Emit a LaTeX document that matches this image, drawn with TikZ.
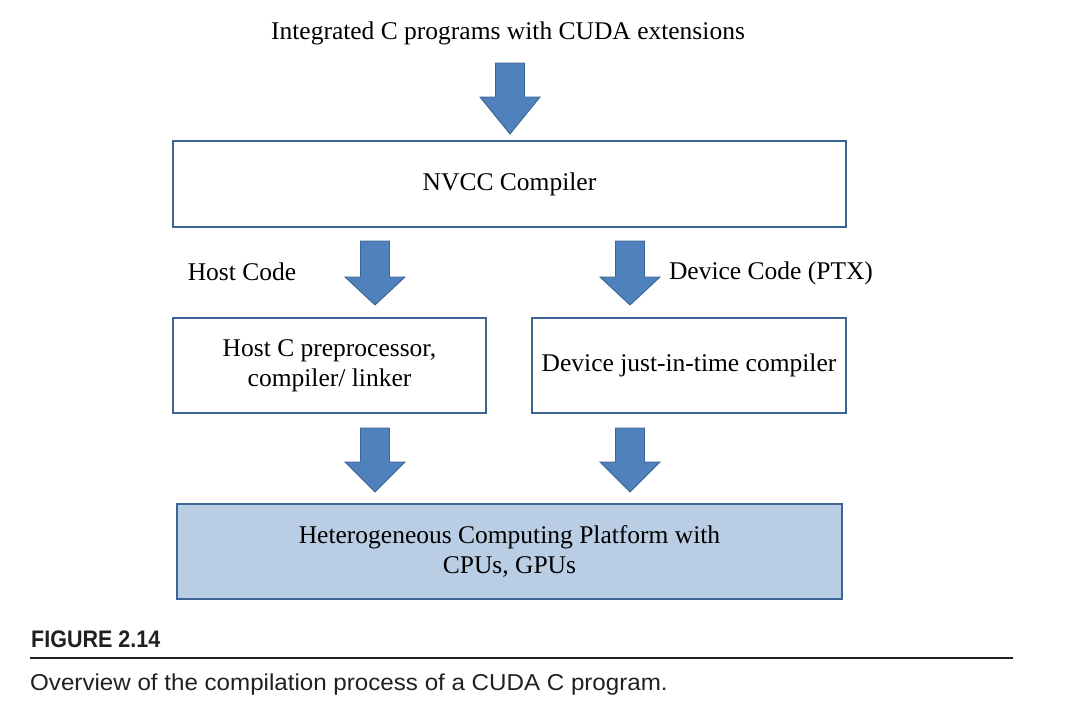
\documentclass[tikz,border=0pt]{standalone}
\usepackage{fontspec}
\setmainfont{Liberation Serif}
\newfontfamily\figfont[FakeStretch=0.9]{Liberation Sans}
\newfontfamily\capfont[FakeStretch=1.05]{Liberation Sans}
\definecolor{boxblue}{RGB}{60,100,148}
\definecolor{arrowfill}{RGB}{79,129,189}
\definecolor{arrowline}{RGB}{60,100,150}
\definecolor{platfill}{RGB}{185,205,229}
\definecolor{capblack}{RGB}{35,31,32}
\tikzset{
  diagtext/.style={font=\fontsize{25.5}{30}\selectfont, inner sep=0pt, align=center},
  stagebox/.style={draw=boxblue, line width=2.8pt, fill=white, inner sep=0pt, align=center, font=\fontsize{25.5}{30}\selectfont},
  platbox/.style={stagebox, fill=platfill},
  blockarrow/.style={fill=arrowfill, draw=arrowline, line width=0.9pt, line join=miter},
}
\newcommand\downarrowshape[4]{%
  \filldraw[blockarrow] (#1-14.5,#2) -- (#1+14.5,#2) -- (#1+14.5,#3) -- (#1+30,#3)
    -- (#1,#4) -- (#1-30,#3) -- (#1-14.5,#3) -- cycle;}
\begin{document}
\begin{tikzpicture}[x=1pt,y=-1pt]
\useasboundingbox (0,0) rectangle (1077,720);
% texts
\node[diagtext] (src) at (508,33) {Integrated C programs with CUDA extensions};
\node[stagebox, minimum width=673pt, minimum height=86pt] (nvcc) at (509.5,184) {NVCC Compiler};
\node[diagtext] (hostlbl) at (242,272) {Host Code};
\node[diagtext] (devlbl) at (771,273) {Device Code (PTX)};
\node[stagebox, minimum width=313pt, minimum height=95pt] (host) at (329.5,365.5) {Host C preprocessor,\\compiler/ linker};
\node[stagebox, minimum width=314pt, minimum height=95pt] (dev) at (689,365.5) {Device just-in-time compiler};
\node[platbox, minimum width=665pt, minimum height=95pt] (plat) at (509.5,551.5) {Heterogeneous Computing Platform with\\CPUs, GPUs};
% block arrows
\downarrowshape{510}{63}{97}{134}
\downarrowshape{375}{241}{277}{305}
\downarrowshape{630}{241}{277}{305}
\downarrowshape{375}{428}{462}{492}
\downarrowshape{630}{428}{462}{492}
% caption
\node[anchor=base west, inner sep=0pt, font=\figfont\bfseries\fontsize{23.9}{28}\selectfont, text=capblack] (fig) at (31,647) {FIGURE 2.14};
\coordinate (rulel) at (30,658);
\coordinate (ruler) at (1013,658);
\draw[capblack, line width=2.5pt] (rulel) -- (ruler);
\node[anchor=base west, inner sep=0pt, font=\capfont\fontsize{23}{27}\selectfont, text=capblack] (cap) at (30,690) {Overview of the compilation process of a CUDA C program.};
\end{tikzpicture}
\end{document}
